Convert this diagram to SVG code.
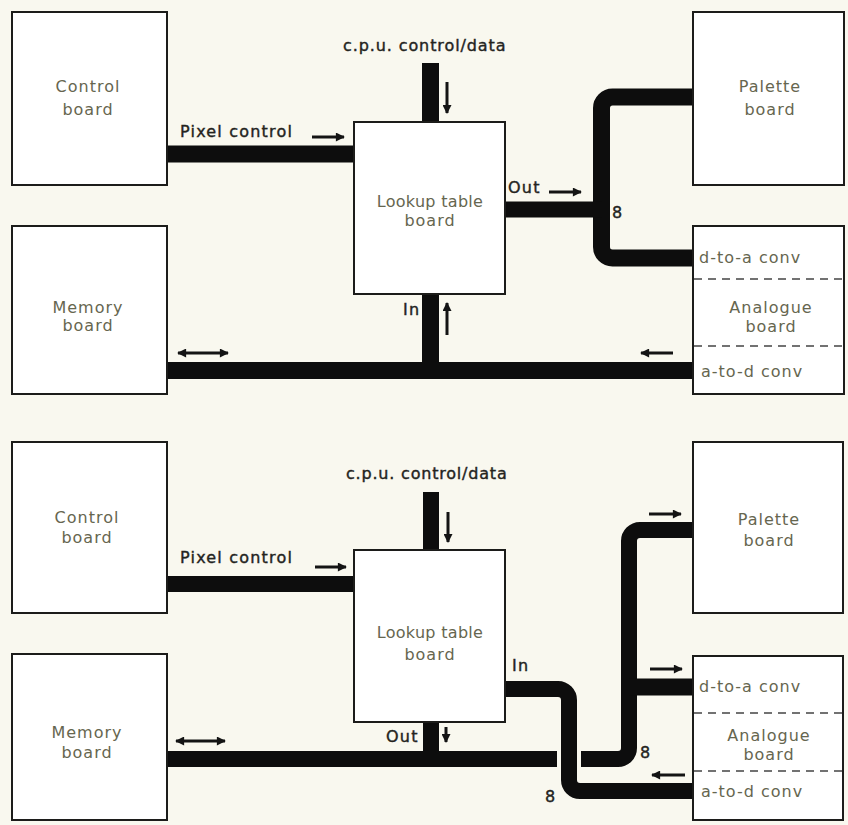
<svg xmlns="http://www.w3.org/2000/svg" width="848" height="825" viewBox="0 0 848 825">
<style>
.box{fill:#ffffff;stroke:#1c1c1a;stroke-width:2}
.lbl{font-family:"DejaVu Sans","Liberation Sans",sans-serif;font-size:16px;fill:#66664f;letter-spacing:1px}
.bl{font-family:"DejaVu Sans","Liberation Sans",sans-serif;font-size:16px;fill:#24241e;stroke:#24241e;stroke-width:0.4;letter-spacing:1.2px}
.bus{fill:none;stroke:#0d0d0d;stroke-width:17;stroke-linecap:butt;stroke-linejoin:miter}
.arr{fill:none;stroke:#141414;stroke-width:3}
.dash{stroke:#444;stroke-width:1.5;stroke-dasharray:8 6}
</style>
<defs>
<marker id="ah" viewBox="0 0 10 10" refX="9" refY="5" markerWidth="4.5" markerHeight="3" orient="auto" markerUnits="strokeWidth">
<path d="M0,0 L10,5 L0,10 z" fill="#141414"/>
</marker>
<marker id="ahs" viewBox="0 0 10 10" refX="1" refY="5" markerWidth="4.5" markerHeight="3" orient="auto" markerUnits="strokeWidth">
<path d="M10,0 L0,5 L10,10 z" fill="#141414"/>
</marker>
</defs>
<rect x="0" y="0" width="848" height="825" fill="#f9f8ef"/>

<!-- connectors -->
<g id="connectors">
  <!-- top diagram -->
  <path class="bus" d="M167 154 H354"/>
  <path class="bus" d="M430.5 63 V122"/>
  <path class="bus" d="M693 97 H612.5 A11 11 0 0 0 601.5 108 V247 A11 11 0 0 0 612.5 258 H693"/>
  <path class="bus" style="stroke-width:16" d="M505 209.5 H602"/>
  <path class="bus" d="M167 370.5 H693"/>
  <path class="bus" d="M430.5 294 V371"/>
  <!-- bottom diagram -->
  <path class="bus" style="stroke-width:16" d="M167 584 H354"/>
  <path class="bus" style="stroke-width:16" d="M431 492 V550"/>
  <path class="bus" style="stroke-width:16" d="M431 722 V760"/>
  <path class="bus" style="stroke-width:16" d="M167 759 H557"/>
  <path class="bus" style="stroke-width:16" d="M693 530 H640 A11 11 0 0 0 629 541 V748 A11 11 0 0 1 618 759 H581"/>
  <path class="bus" style="stroke-width:17" d="M629 687 H693"/>
  <path class="bus" style="stroke-width:16" d="M505 689 H558 A11 11 0 0 1 569 700 V780 A11 11 0 0 0 580 791 H693"/>

  <!-- arrows top -->
  <line class="arr" x1="312" y1="137" x2="344" y2="137" marker-end="url(#ah)"/>
  <line class="arr" x1="447" y1="82" x2="447" y2="113" marker-end="url(#ah)"/>
  <line class="arr" x1="549" y1="192" x2="581" y2="192" marker-end="url(#ah)"/>
  <line class="arr" x1="447" y1="335" x2="447" y2="303" marker-end="url(#ah)"/>
  <line class="arr" x1="178" y1="353" x2="228" y2="353" marker-start="url(#ahs)" marker-end="url(#ah)"/>
  <line class="arr" x1="673" y1="353" x2="641" y2="353" marker-end="url(#ah)"/>
  <!-- arrows bottom -->
  <line class="arr" x1="315" y1="567" x2="346" y2="567" marker-end="url(#ah)"/>
  <line class="arr" x1="448" y1="512" x2="448" y2="542" marker-end="url(#ah)"/>
  <line class="arr" x1="446" y1="727" x2="446" y2="742" marker-end="url(#ah)"/>
  <line class="arr" x1="176" y1="741" x2="225" y2="741" marker-start="url(#ahs)" marker-end="url(#ah)"/>
  <line class="arr" x1="649" y1="514" x2="681" y2="514" marker-end="url(#ah)"/>
  <line class="arr" x1="650" y1="669" x2="682" y2="669" marker-end="url(#ah)"/>
  <line class="arr" x1="685" y1="775" x2="652" y2="775" marker-end="url(#ah)"/>

  <!-- connector labels top -->
  <text class="bl" x="180" y="137">Pixel control</text>
  <text class="bl" x="343" y="51" style="letter-spacing:0.9px">c.p.u. control/data</text>
  <text class="bl" x="508" y="193">Out</text>
  <text class="bl" x="612" y="218">8</text>
  <text class="bl" x="403" y="315">In</text>
  <!-- connector labels bottom -->
  <text class="bl" x="180" y="563">Pixel control</text>
  <text class="bl" x="346" y="479" style="letter-spacing:0.8px">c.p.u. control/data</text>
  <text class="bl" x="386" y="742">Out</text>
  <text class="bl" x="512" y="671">In</text>
  <text class="bl" x="640" y="758">8</text>
  <text class="bl" x="545" y="802">8</text>
</g>

<!-- top diagram nodes -->
<g id="control-board-1">
  <rect class="box" x="12" y="12" width="155" height="173"/>
  <text class="lbl" x="88" y="92" text-anchor="middle">Control</text>
  <text class="lbl" x="88" y="115" text-anchor="middle">board</text>
</g>
<g id="memory-board-1">
  <rect class="box" x="12" y="226" width="155" height="168"/>
  <text class="lbl" x="88" y="313" text-anchor="middle">Memory</text>
  <text class="lbl" x="88" y="331" text-anchor="middle">board</text>
</g>
<g id="lookup-board-1">
  <rect class="box" x="354" y="122" width="151" height="172"/>
  <text class="lbl" x="430" y="207" text-anchor="middle" style="letter-spacing:0.3px">Lookup table</text>
  <text class="lbl" x="430" y="226" text-anchor="middle">board</text>
</g>
<g id="palette-board-1">
  <rect class="box" x="693" y="12" width="151" height="173"/>
  <text class="lbl" x="770" y="92" text-anchor="middle">Palette</text>
  <text class="lbl" x="770" y="115" text-anchor="middle">board</text>
</g>
<g id="analogue-board-1">
  <rect class="box" x="693" y="226" width="151" height="168"/>
  <line class="dash" x1="694" y1="279" x2="843" y2="279"/>
  <line class="dash" x1="694" y1="346" x2="843" y2="346"/>
  <text class="lbl" x="699" y="263">d-to-a conv</text>
  <text class="lbl" x="771" y="313" text-anchor="middle">Analogue</text>
  <text class="lbl" x="771" y="332" text-anchor="middle">board</text>
  <text class="lbl" x="701" y="377">a-to-d conv</text>
</g>

<!-- bottom diagram nodes -->
<g id="control-board-2">
  <rect class="box" x="12" y="442" width="155" height="171"/>
  <text class="lbl" x="87" y="523" text-anchor="middle">Control</text>
  <text class="lbl" x="87" y="543" text-anchor="middle">board</text>
</g>
<g id="memory-board-2">
  <rect class="box" x="12" y="654" width="155" height="166"/>
  <text class="lbl" x="87" y="738" text-anchor="middle">Memory</text>
  <text class="lbl" x="87" y="758" text-anchor="middle">board</text>
</g>
<g id="lookup-board-2">
  <rect class="box" x="354" y="550" width="151" height="172"/>
  <text class="lbl" x="430" y="638" text-anchor="middle" style="letter-spacing:0.3px">Lookup table</text>
  <text class="lbl" x="430" y="660" text-anchor="middle">board</text>
</g>
<g id="palette-board-2">
  <rect class="box" x="693" y="442" width="150" height="171"/>
  <text class="lbl" x="769" y="525" text-anchor="middle">Palette</text>
  <text class="lbl" x="769" y="546" text-anchor="middle">board</text>
</g>
<g id="analogue-board-2">
  <rect class="box" x="693" y="656" width="150" height="164"/>
  <line class="dash" x1="694" y1="713" x2="842" y2="713"/>
  <line class="dash" x1="694" y1="771" x2="842" y2="771"/>
  <text class="lbl" x="699" y="692">d-to-a conv</text>
  <text class="lbl" x="769" y="741" text-anchor="middle">Analogue</text>
  <text class="lbl" x="769" y="760" text-anchor="middle">board</text>
  <text class="lbl" x="701" y="797">a-to-d conv</text>
</g>
</svg>
